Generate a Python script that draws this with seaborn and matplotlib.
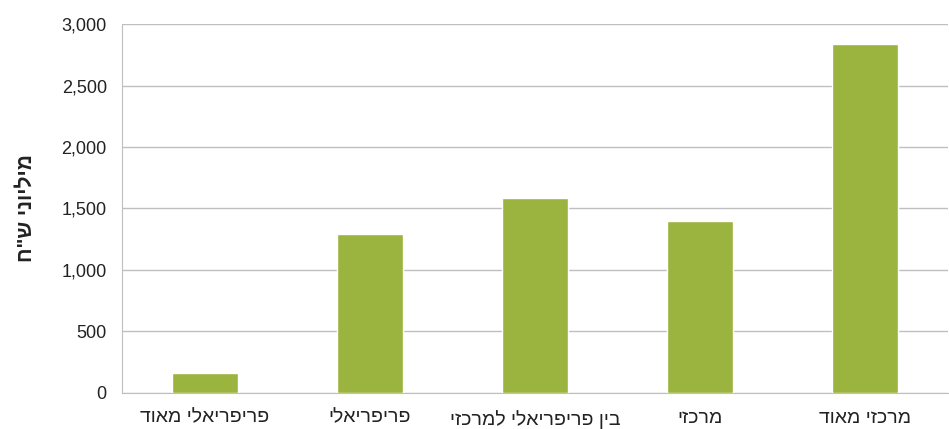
import numpy as np
import pandas as pd
import matplotlib
matplotlib.use("Agg")
import matplotlib.pyplot as plt
import seaborn as sns
from matplotlib.ticker import FuncFormatter, FixedLocator

categories = ["פריפריאלי מאוד", "פריפריאלי", "בין פריפריאלי למרכזי", "מרכזי", "מרכזי מאוד"]
values = [160, 1290, 1585, 1400, 2840]
y_label = "מיליוני ש\"ח"


def rtl(s):
    # matplotlib has no bidi support, so flip Hebrew to visual order
    return s[::-1]


df = pd.DataFrame({"category": [rtl(c) for c in categories], "value": values})

sns.set_style("white")
plt.rcParams["font.family"] = ["Liberation Sans", "DejaVu Sans"]

fig = plt.figure(figsize=(9.49, 4.29), dpi=100)
ax = fig.add_axes([0.1286, 0.084, 0.87, 0.86])

sns.barplot(data=df, x="category", y="value", color="#9BB43F", width=0.4,
            saturation=1, ax=ax, zorder=3)

ax.set_ylim(0, 3000)
ax.set_xlim(-0.5, len(categories) - 0.5)
ax.set_yticks(np.arange(0, 3001, 500))
ax.yaxis.set_major_formatter(FuncFormatter(lambda v, p: f"{int(v):,}"))
ax.grid(axis="y", color="#BFBFBF", linewidth=1, zorder=0)
ax.set_axisbelow(True)

for side in ["top", "right"]:
    ax.spines[side].set_visible(False)
ax.spines["left"].set_color("#BFBFBF")
ax.spines["bottom"].set_color("#BFBFBF")

ax.xaxis.set_minor_locator(FixedLocator(np.arange(-0.5, len(categories), 1.0)))
ax.tick_params(axis="x", which="major", length=0, labelsize=14, pad=12, colors="#222222")
ax.tick_params(axis="x", which="minor", length=6, color="#BFBFBF", direction="out")
ax.tick_params(axis="y", length=5, color="#BFBFBF", labelsize=13, pad=6)
for lab in ax.get_yticklabels():
    lab.set_color("#222222")

ax.set_xlabel("")
ax.set_ylabel(rtl(y_label), fontsize=15, fontweight="bold", color="#222222")
ax.yaxis.set_label_coords(-0.105, 0.5)

fig.savefig("out.png", dpi=100)
